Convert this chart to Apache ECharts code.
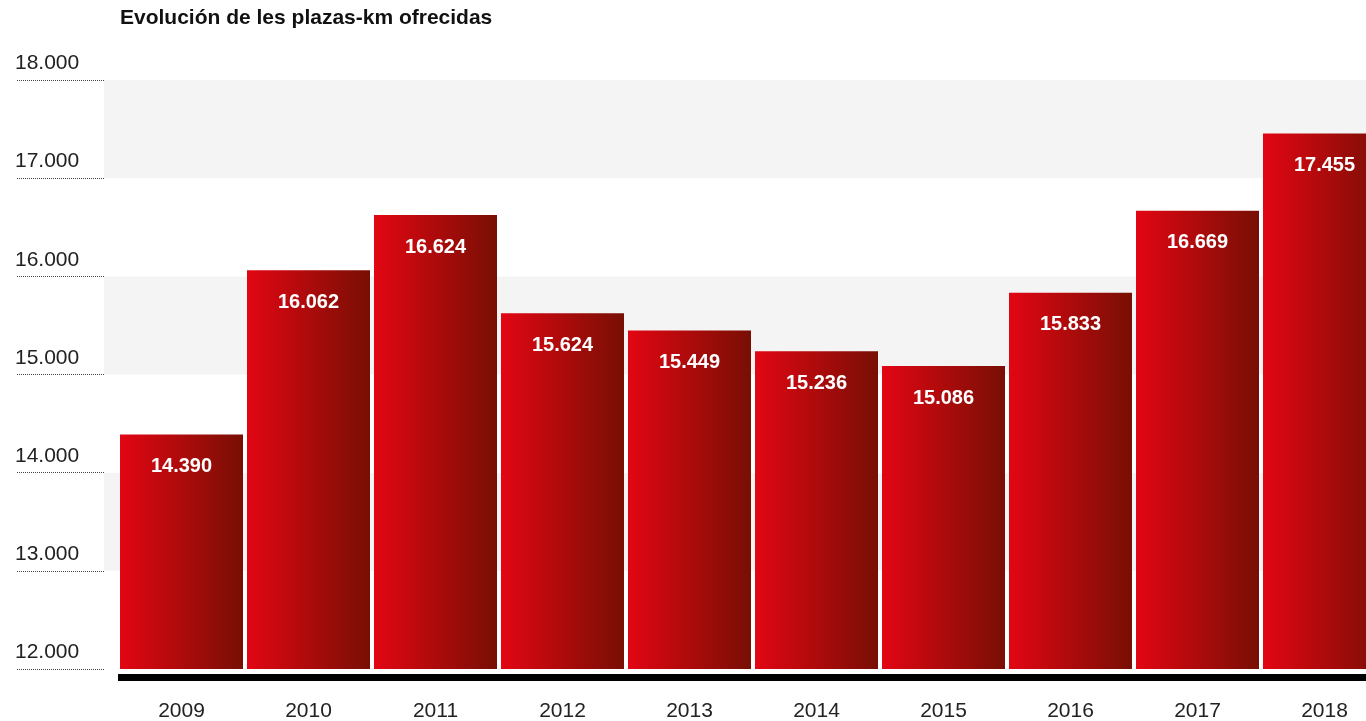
<!DOCTYPE html>
<html>
<head>
<meta charset="utf-8">
<title>Evolución de les plazas-km ofrecidas</title>
<script src="https://cdn.jsdelivr.net/npm/echarts@6/dist/echarts.min.js"></script>
<style>
  html, body { margin: 0; padding: 0; background: #fff; }
  #chart { width: 1366px; height: 721px; }
</style>
</head>
<body>
<div id="chart"></div>
<script>
// Plazas-km ofrecidas por año (millones)
const years = ['2009', '2010', '2011', '2012', '2013', '2014', '2015', '2016', '2017', '2018'];
const plazasKm = [14390, 16062, 16624, 15624, 15449, 15236, 15086, 15833, 16669, 17455];
const axisMin = 12000;
const axisMax = 18000;
const axisStep = 1000;

const fmt = v => String(Math.round(v)).replace(/\B(?=(\d{3})+(?!\d))/g, '.');

const chart = echarts.init(document.getElementById('chart'), null, { renderer: 'canvas' });

const FONT = '"Liberation Sans", Arial, Helvetica, sans-serif';

chart.setOption({
  animation: false,
  backgroundColor: '#fff',
  title: {
    text: 'Evolución de les plazas-km ofrecidas',
    left: 120,
    top: 8,
    padding: 0,
    textStyle: { fontFamily: FONT, fontSize: 21, fontWeight: 'bold', color: '#111' }
  },
  grid: [
    // background bands + dotted tick rules
    { left: 104, top: 80, width: 1262, height: 589, outerBoundsMode: 'none' },
    // bars (the last column runs past the right edge)
    { left: 118, top: 80, width: 1270, height: 589, outerBoundsMode: 'none' }
  ],
  xAxis: [
    { type: 'value', gridIndex: 0, show: false, min: 0, max: 1 },
    {
      type: 'category',
      gridIndex: 1,
      data: years,
      offset: 8,
      axisLine: { show: true, lineStyle: { color: '#000', width: 7, cap: 'butt' } },
      axisTick: { show: false },
      axisLabel: { margin: 24, fontFamily: FONT, fontSize: 21, color: '#222' }
    }
  ],
  yAxis: [
    {
      type: 'value',
      gridIndex: 0,
      min: axisMin,
      max: axisMax,
      interval: axisStep,
      axisLine: { show: false },
      axisTick: {
        show: true,
        length: 88,
        lineStyle: { color: '#444', width: 1, type: [1, 1] }
      },
      splitLine: { show: false },
      splitArea: { show: true, areaStyle: { color: ['#ffffff', '#f4f4f4'] } },
      axisLabel: {
        margin: 89,
        align: 'left',
        verticalAlign: 'bottom',
        lineHeight: 21,
        padding: [0, 0, 6, 0],
        fontFamily: FONT,
        fontSize: 21,
        color: '#222',
        formatter: fmt
      }
    },
    {
      type: 'value',
      gridIndex: 1,
      min: axisMin,
      max: axisMax,
      interval: axisStep,
      show: false,
      splitLine: { show: false }
    }
  ],
  series: [
    {
      type: 'bar',
      xAxisIndex: 1,
      yAxisIndex: 1,
      data: plazasKm,
      barWidth: 123,
      itemStyle: {
        color: new echarts.graphic.LinearGradient(0, 0, 1, 0, [
          { offset: 0, color: '#e20613' },
          { offset: 1, color: '#780f04' }
        ])
      },
      label: {
        show: true,
        position: 'insideTop',
        distance: 22,
        fontFamily: FONT,
        fontSize: 20,
        fontWeight: 'bold',
        color: '#fff',
        formatter: p => fmt(p.value)
      }
    }
  ]
});
</script>
</body>
</html>
